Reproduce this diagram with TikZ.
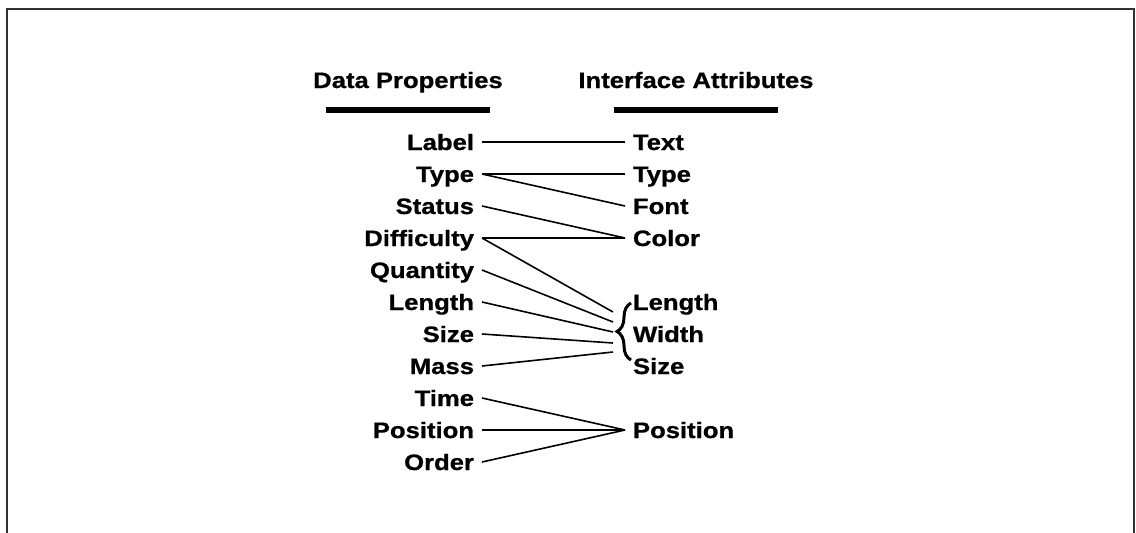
\documentclass[tikz,border=0pt]{standalone}
\usepackage{fontspec}
\setmainfont{Liberation Sans}[FakeStretch=1.15, BoldFeatures={FakeBold=0.8}]
\usetikzlibrary{positioning,decorations.pathreplacing}
\definecolor{ink}{HTML}{000000}
\definecolor{framegray}{HTML}{333333}
\tikzset{
  figbase/.style={
    x=1pt, y=-1pt,
    font=\fontsize{22.3}{26}\bfseries\selectfont,
    color=ink,
  },
  frameline/.style={draw=framegray, line width=2pt},
  link/.style={draw=ink, line width=1.6pt},
  word/.style={inner sep=0pt, outer xsep=8pt, text height=16pt, text depth=0pt, text=ink},
  prop/.style={word, anchor=east},
  attr/.style={word, anchor=west},
  head/.style={inner sep=0pt, text height=16pt, text depth=0pt, text=ink},
  headbar/.style={fill=ink, inner sep=0pt, minimum width=164pt, minimum height=6pt},
  grp/.style={decorate, decoration={brace, amplitude=14pt}, draw=ink, line width=3pt},
}

\begin{document}
\begin{tikzpicture}[figbase]
  \useasboundingbox (0,0) rectangle (1136,533);
  \draw[frameline] (7,533) |- (1134,9) -- (1134,533);

  \node[head] (hdata) at (408,80) {Data Properties};
  \node[head] (hattr) at (696,80) {Interface Attributes};
  \node[headbar, below=19pt of hdata] (bdata) {};
  \node[headbar, below=19pt of hattr] (battr) {};

  % data properties
  \node[prop] (lLabel) at (482,142) {Label};
  \node[prop] (lType)  at (482,174) {Type};
  \node[prop] (lStat)  at (482,206) {Status};
  \node[prop] (lDiff)  at (482,238) {Difficulty};
  \node[prop] (lQty)   at (482,270) {Quantity};
  \node[prop] (lLen)   at (482,302) {Length};
  \node[prop] (lSize)  at (482,334) {Size};
  \node[prop] (lMass)  at (482,366) {Mass};
  \node[prop] (lTime)  at (482,398) {Time};
  \node[prop] (lPos)   at (482,430) {Position};
  \node[prop] (lOrder) at (482,462) {Order};

  % interface attributes
  \node[attr] (rText)  at (625,142) {Text};
  \node[attr] (rType)  at (625,174) {Type};
  \node[attr] (rFont)  at (625,206) {Font};
  \node[attr] (rColor) at (625,238) {Color};
  \node[attr] (rLen)   at (625,302) {Length};
  \node[attr] (rWid)   at (625,334) {Width};
  \node[attr] (rSize)  at (625,366) {Size};
  \node[attr] (rPos)   at (625,430) {Position};

  \draw[grp] ([xshift=6pt,yshift=6pt]rSize.west) -- ([xshift=6pt,yshift=-1pt]rLen.west);
  \foreach \i/\dy in {1/22,2/12,3/2,4/-9,5/-18}
    \coordinate (fan\i) at ([xshift=-12pt,yshift=\dy pt]rWid.west);

  \draw[link] (lLabel.east) -- (rText.west);
  \draw[link] (lType.east) -- (rType.west);
  \draw[link] (lType.east) -- (rFont.west);
  \draw[link] (lStat.east) -- (rColor.west);
  \draw[link] (lDiff.east) -- (rColor.west);
  \draw[link] (lDiff.east) -- (fan1);
  \draw[link] (lQty.east) -- (fan2);
  \draw[link] (lLen.east) -- (fan3);
  \draw[link] (lSize.east) -- (fan4);
  \draw[link] (lMass.east) -- (fan5);
  \draw[link] (lTime.east) -- (rPos.west);
  \draw[link] (lPos.east) -- (rPos.west);
  \draw[link] (lOrder.east) -- (rPos.west);
\end{tikzpicture}
\end{document}
